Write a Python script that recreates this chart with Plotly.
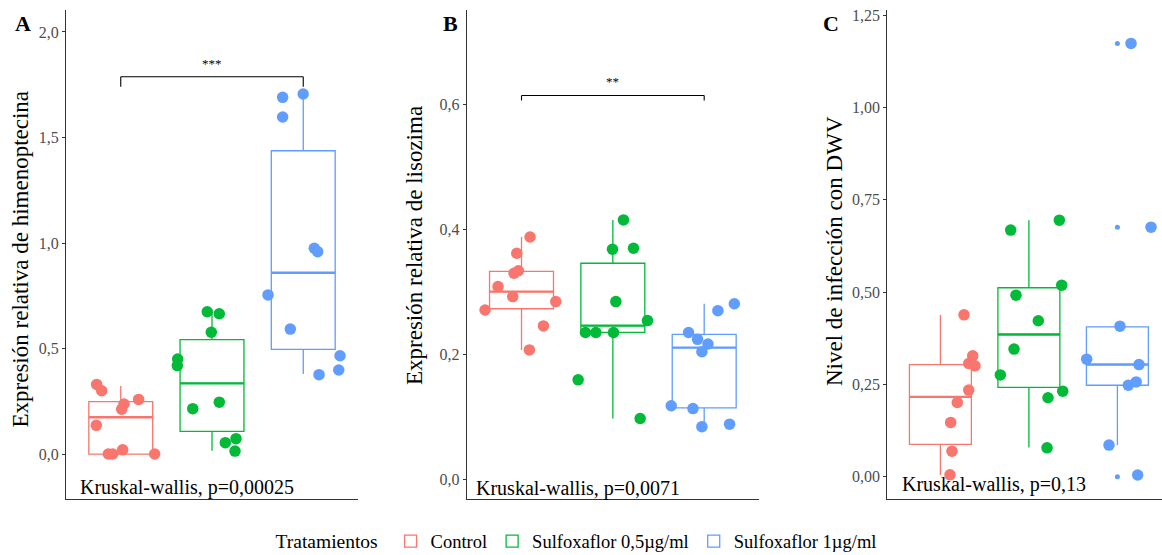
import plotly.graph_objects as go

# ---------------- data ----------------
groups = ["Control", "Sulfoxaflor 0,5µg/ml", "Sulfoxaflor 1µg/ml"]
colors = ["#F8766D", "#00BA38", "#619CFF"]
group_pos = [1, 2, 3]

# Panel A: Expresión relativa de himenoptecina
A_ctrl_y = [0.33, 0.30, 0.237, 0.212, 0.259, 0.136, 0.02, 0.0, 0.0, 0.0]
A_ctrl_dx = [-0.264, -0.209, 0.036, 0.010, 0.196, -0.268, 0.021, -0.136, -0.088, 0.372]
A_sul05_y = [0.674, 0.665, 0.577, 0.450, 0.419, 0.215, 0.246, 0.054, 0.073, 0.014]
A_sul05_dx = [-0.052, 0.080, -0.008, -0.376, -0.380, -0.211, 0.080, 0.146, 0.263, 0.252]
A_sul1_y = [1.706, 1.690, 1.597, 0.975, 0.959, 0.754, 0.592, 0.466, 0.398, 0.376]
A_sul1_dx = [-0.001, -0.226, -0.226, 0.121, 0.158, -0.386, -0.142, 0.403, 0.389, 0.173]
A_q1 = [0.0, 0.107, 0.496]
A_med = [0.174, 0.335, 0.859]
A_q3 = [0.248, 0.542, 1.437]
A_lo = [0.0, 0.016, 0.379]
A_hi = [0.322, 0.674, 1.706]

# Panel B: Expresión relativa de lisozima
B_ctrl_y = [0.271, 0.3085, 0.2925, 0.330, 0.334, 0.362, 0.388, 0.2845, 0.2455, 0.207]
B_ctrl_dx = [-0.399, -0.257, -0.096, -0.082, -0.034, -0.052, 0.094, 0.375, 0.240, 0.086]
B_sul05_y = [0.4155, 0.3685, 0.370, 0.2845, 0.254, 0.235, 0.235, 0.235, 0.159, 0.097]
B_sul05_dx = [0.116, -0.004, 0.226, 0.033, 0.379, -0.300, -0.186, 0.007, -0.380, 0.299]
B_sul1_y = [0.281, 0.270, 0.235, 0.224, 0.2165, 0.204, 0.1175, 0.113, 0.084, 0.088]
B_sul1_dx = [0.330, 0.150, -0.171, -0.073, 0.041, -0.025, -0.361, -0.123, -0.025, 0.278]
B_q1 = [0.273, 0.235, 0.114]
B_med = [0.3005, 0.246, 0.2107]
B_q3 = [0.333, 0.346, 0.232]
B_lo = [0.207, 0.097, 0.085]
B_hi = [0.388, 0.4155, 0.281]

# Panel C: Nivel de infección con DWV
C_ctrl_y = [0.4387, 0.3277, 0.307, 0.3006, 0.2348, 0.2014, 0.1473, 0.0696, 0.0054]
C_ctrl_dx = [0.267, 0.365, 0.320, 0.391, 0.320, 0.191, 0.116, 0.131, 0.108]
C_sul05_y = [0.695, 0.668, 0.519, 0.492, 0.4225, 0.3458, 0.276, 0.232, 0.214, 0.0786]
C_sul05_dx = [0.344, -0.206, 0.371, -0.146, 0.106, -0.168, -0.323, 0.382, 0.216, 0.205]
C_sul1_y = [1.1735, 0.676, 0.005, 0.408, 0.3187, 0.304, 0.248, 0.257, 0.086]
C_sul1_dx = [0.154, 0.380, 0.229, 0.029, -0.347, 0.244, 0.123, 0.212, -0.095]
C_q1 = [0.0877, 0.242, 0.248]
C_med = [0.2166, 0.3855, 0.304]
C_q3 = [0.304, 0.512, 0.406]
C_lo = [0.005, 0.0796, 0.086]
C_hi = [0.438, 0.695, 0.406]
C_sul1_outliers = [1.1735, 0.676, 0.0]

y_titles = ["Expresión relativa de himenoptecina", "Expresión relativa de lisozima",
            "Nivel de infección con DWV"]
panel_letters = ["A", "B", "C"]
kw_labels = ["Kruskal-wallis, p=0,00025", "Kruskal-wallis, p=0,0071", "Kruskal-wallis, p=0,13"]
sig_labels = ["***", "**", None]

# ---------------- layout geometry ----------------
W, H = 1162, 555
FONT = "Liberation Serif"
BOX_W = 0.7

panels = [
    dict(q1=A_q1, med=A_med, q3=A_q3, lo=A_lo, hi=A_hi,
         ys=[A_ctrl_y, A_sul05_y, A_sul1_y], dxs=[A_ctrl_dx, A_sul05_dx, A_sul1_dx],
         dom=[66 / W, 358 / W], xr=[0.4, 3.6], yr=[-0.213, 2.104],
         tickvals=[0, 0.5, 1.0, 1.5, 2.0], fmt=".1f",
         bracket=(1.788, 1.74, 1.85), kw=(0.53, -0.157),
         ytitle_x=19.5, ytitle_y=259, letter_x=23),
    dict(q1=B_q1, med=B_med, q3=B_q3, lo=B_lo, hi=B_hi,
         ys=[B_ctrl_y, B_sul05_y, B_sul1_y], dxs=[B_ctrl_dx, B_sul05_dx, B_sul1_dx],
         dom=[466.7 / W, 759 / W], xr=[0.4, 3.6], yr=[-0.032, 0.752],
         tickvals=[0, 0.2, 0.4, 0.6], fmt=".1f",
         bracket=(0.615, 0.607, 0.638), kw=(0.48, -0.015),
         ytitle_x=414, ytitle_y=246, letter_x=450),
    dict(q1=C_q1, med=C_med, q3=C_q3, lo=C_lo, hi=C_hi,
         ys=[C_ctrl_y, C_sul05_y, C_sul1_y], dxs=[C_ctrl_dx, C_sul05_dx, C_sul1_dx],
         dom=[887.3 / W, 1.0], xr=[0.4, 3.504], yr=[-0.060, 1.264],
         tickvals=[0, 0.25, 0.5, 0.75, 1.0, 1.25], fmt=".2f",
         bracket=None, kw=(0.545, -0.02),
         ytitle_x=834, ytitle_y=251, letter_x=831),
]

ydom = [(H - 499) / H, (H - 10) / H]

fig = go.Figure()
annotations = []
shapes = []

for p_i, P in enumerate(panels):
    ax = "" if p_i == 0 else str(p_i + 1)
    xref, yref = "x" + ax, "y" + ax
    for g in range(3):
        fig.add_trace(go.Box(
            x=[group_pos[g]], q1=[P["q1"][g]], median=[P["med"][g]], q3=[P["q3"][g]],
            lowerfence=[P["lo"][g]], upperfence=[P["hi"][g]],
            width=BOX_W, whiskerwidth=0, boxpoints=False,
            line=dict(color=colors[g], width=1.3),
            fillcolor="rgba(255,255,255,0)",
            name=groups[g], legendgroup=groups[g], showlegend=(p_i == 0),
            xaxis=xref, yaxis=yref, hoverinfo="skip"))
        # thicker median line (ggplot style)
        fig.add_trace(go.Scatter(
            x=[group_pos[g] - BOX_W / 2, group_pos[g] + BOX_W / 2],
            y=[P["med"][g], P["med"][g]], mode="lines",
            line=dict(color=colors[g], width=2.4), showlegend=False,
            legendgroup=groups[g], xaxis=xref, yaxis=yref, hoverinfo="skip"))
    if p_i == 2:
        fig.add_trace(go.Scatter(
            x=[group_pos[2]] * len(C_sul1_outliers), y=C_sul1_outliers, mode="markers",
            marker=dict(color=colors[2], size=5), showlegend=False,
            xaxis=xref, yaxis=yref, hoverinfo="skip"))
    for g in range(3):
        fig.add_trace(go.Scatter(
            x=[group_pos[g] + d for d in P["dxs"][g]], y=P["ys"][g], mode="markers",
            marker=dict(color=colors[g], size=11.5), showlegend=False,
            legendgroup=groups[g], xaxis=xref, yaxis=yref, cliponaxis=True,
            hoverinfo="skip"))

    fig.update_layout(**{
        "xaxis" + ax: dict(domain=P["dom"], range=P["xr"], showline=True, linecolor="#333333",
                           linewidth=1.1, showticklabels=False, ticks="", showgrid=False,
                           zeroline=False, anchor=yref, fixedrange=True, automargin=False),
        "yaxis" + ax: dict(domain=ydom, range=P["yr"], showline=True, linecolor="#333333",
                           linewidth=1.1, tickvals=P["tickvals"], tickformat=P["fmt"],
                           ticks="outside", ticklen=3, tickcolor="#333333",
                           tickfont=dict(family=FONT, size=16, color="#4D4D4D"),
                           showgrid=False, zeroline=False, anchor=xref, fixedrange=True,
                           automargin=False),
    })

    # y-axis title
    annotations.append(dict(x=P["ytitle_x"] / W, y=(H - P["ytitle_y"]) / H, xref="paper",
                            yref="paper", text=y_titles[p_i], textangle=-90, showarrow=False,
                            font=dict(family=FONT, size=23, color="black"),
                            xanchor="center", yanchor="middle"))
    # panel letter
    annotations.append(dict(x=P["letter_x"] / W, y=(H - 23) / H, xref="paper", yref="paper",
                            text="<b>" + panel_letters[p_i] + "</b>", showarrow=False,
                            font=dict(family=FONT, size=22, color="black"),
                            xanchor="center", yanchor="middle"))
    # Kruskal-Wallis label
    annotations.append(dict(x=P["kw"][0], y=P["kw"][1], xref=xref, yref=yref,
                            text=kw_labels[p_i], showarrow=False,
                            font=dict(family=FONT, size=20, color="black"),
                            xanchor="left", yanchor="middle"))
    # significance bracket
    if P["bracket"] is not None:
        yb, ytick, ystar = P["bracket"]
        for (x0, y0, x1, y1) in [(1, ytick, 1, yb), (1, yb, 3, yb), (3, yb, 3, ytick)]:
            shapes.append(dict(type="line", xref=xref, yref=yref, x0=x0, y0=y0, x1=x1, y1=y1,
                               line=dict(color="black", width=1.1)))
        annotations.append(dict(x=2, y=ystar, xref=xref, yref=yref, text=sig_labels[p_i],
                                showarrow=False, font=dict(family=FONT, size=13, color="black"),
                                xanchor="center", yanchor="middle"))

fig.update_layout(
    width=W, height=H, margin=dict(l=0, r=0, t=0, b=0, autoexpand=False),
    paper_bgcolor="white", plot_bgcolor="white",
    separators=",.",
    font=dict(family=FONT, color="black"),
    annotations=annotations, shapes=shapes,
    legend=dict(orientation="h", x=0.497, xanchor="center", y=(H - 541.5) / H,
                yanchor="middle", title=dict(text="Tratamientos ", side="left",
                                             font=dict(family=FONT, size=19.5)),
                font=dict(family=FONT, size=18.5, color="black"),
                itemwidth=30, tracegroupgap=0, bgcolor="rgba(0,0,0,0)"),
)

fig.write_html("out.html", config={"displayModeBar": False},
               post_script="document.body.style.margin='0';document.body.style.overflow='hidden';")
